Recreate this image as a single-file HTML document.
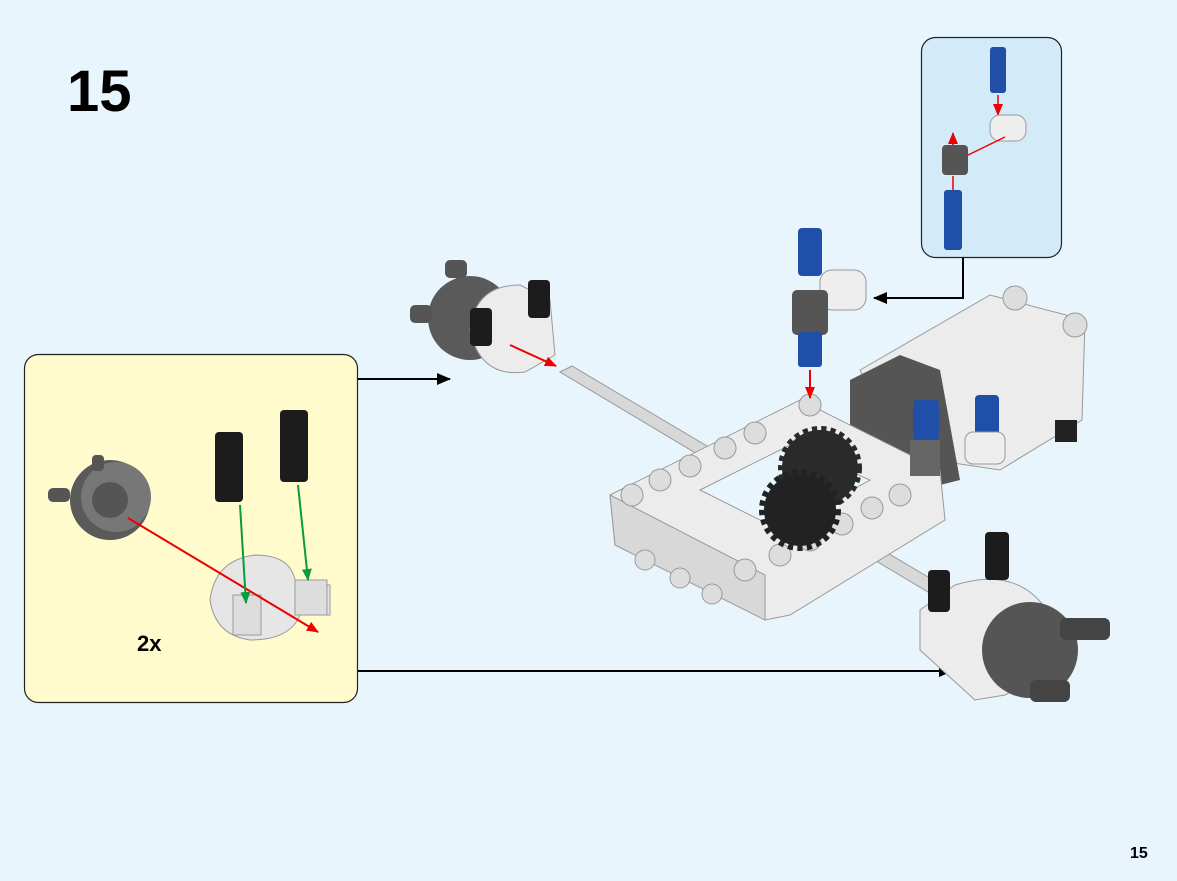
<!DOCTYPE html>
<html><head><meta charset="utf-8"><style>
html,body{margin:0;padding:0;background:#e8f5fd;}
body{width:1177px;height:881px;position:relative;overflow:hidden;font-family:"Liberation Sans",sans-serif;}
.step{position:absolute;left:67px;top:58px;font-size:58px;font-weight:bold;color:#000;}
.pg{position:absolute;left:1130px;top:845px;font-size:16px;font-weight:bold;}
</style></head><body>
<div class="step">15</div>
<div class="pg">15</div>
<svg width="1177" height="881" style="position:absolute;left:0;top:0">
<defs>
<marker id="ab" markerWidth="14" markerHeight="12" refX="13" refY="6" orient="auto" markerUnits="userSpaceOnUse"><path d="M0,0L14,6L0,12z" fill="#000"/></marker>
<marker id="ar" markerWidth="12" markerHeight="10" refX="11" refY="5" orient="auto" markerUnits="userSpaceOnUse"><path d="M0,0L12,5L0,10z" fill="#e00"/></marker>
<marker id="ag" markerWidth="12" markerHeight="10" refX="11" refY="5" orient="auto" markerUnits="userSpaceOnUse"><path d="M0,0L12,5L0,10z" fill="#0a9a3a"/></marker>
</defs>
<rect x="24.5" y="354.5" width="333" height="348" rx="14" fill="#fffbcc" stroke="#222" stroke-width="1.2"/>
<rect x="921.5" y="37.5" width="140" height="220" rx="14" fill="#d3eaf8" stroke="#222" stroke-width="1.2"/>
<line x1="358" y1="379" x2="450" y2="379" stroke="#000" stroke-width="2" marker-end="url(#ab)"/>
<line x1="358" y1="671" x2="952" y2="671" stroke="#000" stroke-width="2" marker-end="url(#ab)"/>
<polyline points="963,258 963,298 874,298" fill="none" stroke="#000" stroke-width="2" marker-end="url(#ab)"/>
<text x="137" y="651" font-size="22" font-weight="bold" font-family="Liberation Sans">2x</text>

<circle cx="110" cy="500" r="40" fill="#5a5a5a"/>
<circle cx="116" cy="497" r="35" fill="#777"/>
<circle cx="110" cy="500" r="18" fill="#555"/>
<rect x="48" y="488" width="22" height="14" rx="5" fill="#555"/>
<rect x="92" y="455" width="12" height="16" rx="4" fill="#555"/>
<path d="M210,600 Q215,560 255,555 Q290,555 295,580 L330,585 L330,615 L300,615 Q290,640 250,640 Q215,635 210,600z" fill="#e6e6e6" stroke="#999"/>
<rect x="233" y="595" width="28" height="40" fill="#ddd" stroke="#999"/>
<rect x="295" y="580" width="32" height="35" fill="#ddd" stroke="#999"/>
<rect x="215" y="432" width="28" height="70" rx="4" fill="#1c1c1c"/>
<rect x="280" y="410" width="28" height="72" rx="4" fill="#1c1c1c"/>
<line x1="128" y1="518" x2="318" y2="632" stroke="#e00" stroke-width="2" marker-end="url(#ar)"/>
<line x1="240" y1="505" x2="246" y2="603" stroke="#0a9a3a" stroke-width="2" marker-end="url(#ag)"/>
<line x1="298" y1="485" x2="308" y2="580" stroke="#0a9a3a" stroke-width="2" marker-end="url(#ag)"/>

<rect x="990" y="47" width="16" height="46" rx="3" fill="#1f4fa8"/>
<line x1="998" y1="95" x2="998" y2="115" stroke="#e00" stroke-width="1.5" marker-end="url(#ar)"/>
<rect x="990" y="115" width="36" height="26" rx="10" fill="#eee" stroke="#999"/>
<line x1="1005" y1="137" x2="962" y2="158" stroke="#e00" stroke-width="1.5"/>
<rect x="942" y="145" width="26" height="30" rx="4" fill="#555"/>
<line x1="953" y1="145" x2="953" y2="133" stroke="#e00" stroke-width="1.5" marker-end="url(#ar)"/>
<line x1="953" y1="190" x2="953" y2="176" stroke="#e00" stroke-width="1.5"/>
<rect x="944" y="190" width="18" height="60" rx="3" fill="#1f4fa8"/>

<circle cx="470" cy="318" r="42" fill="#5a5a5a"/>
<path d="M470,330 Q475,285 520,285 L550,300 L555,355 L525,372 Q480,378 470,330z" fill="#ececec" stroke="#999"/>
<rect x="470" y="308" width="22" height="38" rx="4" fill="#1c1c1c"/>
<rect x="528" y="280" width="22" height="38" rx="4" fill="#1c1c1c"/>
<rect x="410" y="305" width="22" height="18" rx="5" fill="#555"/>
<rect x="445" y="260" width="22" height="18" rx="5" fill="#555"/>
<line x1="510" y1="345" x2="556" y2="366" stroke="#e00" stroke-width="2" marker-end="url(#ar)"/>
<polygon points="560,372 572,366 950,590 938,598" fill="#d8d8d8" stroke="#999"/>

<polygon points="860,370 990,295 1085,320 1082,420 1000,470 900,455" fill="#ececec" stroke="#999"/>
<polygon points="850,380 900,355 940,370 960,480 900,495 850,460" fill="#555"/>
<circle cx="1015" cy="298" r="12" fill="#ddd" stroke="#999"/>
<circle cx="1075" cy="325" r="12" fill="#ddd" stroke="#999"/>
<rect x="1055" y="420" width="22" height="22" fill="#222"/>

<polygon points="610,495 800,400 940,470 945,520 790,615 765,620 615,545" fill="#ececec" stroke="#999"/>
<polygon points="700,490 790,445 870,480 780,530" fill="#e8f5fd" stroke="#999"/>
<polygon points="610,495 615,545 765,620 765,575" fill="#d8d8d8" stroke="#999"/>
<g fill="#ddd" stroke="#999">
<circle cx="810" cy="405" r="11"/><circle cx="755" cy="433" r="11"/><circle cx="725" cy="448" r="11"/><circle cx="690" cy="466" r="11"/><circle cx="660" cy="480" r="11"/><circle cx="632" cy="495" r="11"/>
<circle cx="745" cy="570" r="11"/><circle cx="780" cy="555" r="11"/><circle cx="810" cy="540" r="11"/><circle cx="842" cy="524" r="11"/><circle cx="872" cy="508" r="11"/><circle cx="900" cy="495" r="11"/>
<circle cx="645" cy="560" r="10"/><circle cx="680" cy="578" r="10"/><circle cx="712" cy="594" r="10"/>
</g>
<circle cx="820" cy="468" r="38" fill="#2a2a2a" stroke="#2a2a2a" stroke-width="8" stroke-dasharray="5 4"/>
<circle cx="800" cy="510" r="36" fill="#222" stroke="#222" stroke-width="10" stroke-dasharray="5 4"/>
<rect x="913" y="400" width="26" height="40" rx="4" fill="#1f4fa8"/>
<rect x="910" y="440" width="30" height="36" fill="#666"/>
<rect x="975" y="395" width="24" height="42" rx="4" fill="#1f4fa8"/>
<rect x="965" y="432" width="40" height="32" rx="8" fill="#eee" stroke="#999"/>
<rect x="798" y="228" width="24" height="48" rx="4" fill="#1f4fa8"/>
<rect x="820" y="270" width="46" height="40" rx="12" fill="#eee" stroke="#999"/>
<rect x="792" y="290" width="36" height="45" rx="5" fill="#555"/>
<rect x="798" y="332" width="24" height="35" rx="3" fill="#1f4fa8"/>
<line x1="810" y1="370" x2="810" y2="398" stroke="#e00" stroke-width="2" marker-end="url(#ar)"/>

<path d="M920,610 L955,585 Q1020,565 1050,615 Q1055,670 1005,695 L975,700 L920,650z" fill="#ececec" stroke="#999"/>
<circle cx="1030" cy="650" r="48" fill="#555"/>
<rect x="928" y="570" width="22" height="42" rx="4" fill="#1c1c1c"/>
<rect x="985" y="532" width="24" height="48" rx="4" fill="#1c1c1c"/>
<rect x="1060" y="618" width="50" height="22" rx="6" fill="#444"/>
<rect x="1030" y="680" width="40" height="22" rx="6" fill="#444"/>
</svg>
</body></html>
